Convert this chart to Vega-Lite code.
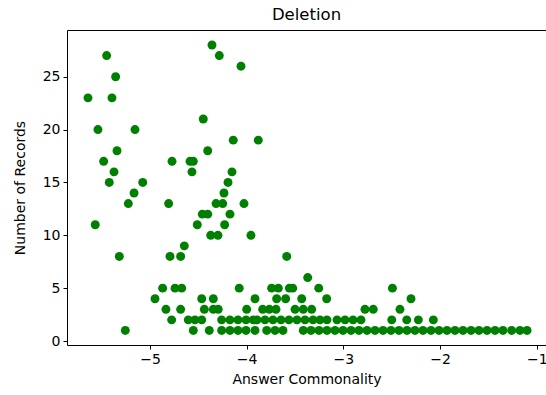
{
  "$schema": "https://vega.github.io/schema/vega-lite/v6.json",
  "autosize": {"type": "none"},
  "padding": {"left": 67, "top": 30, "right": 0, "bottom": 50},
  "width": 479,
  "height": 315,
  "background": "white",
  "title": {
    "text": "Deletion",
    "font": "DejaVu Sans",
    "fontSize": 16.5,
    "fontWeight": "normal",
    "color": "#000000",
    "anchor": "middle",
    "offset": 7
  },
  "data": {
    "values": [
      {"commonality": -5.641, "records": 23},
      {"commonality": -5.393, "records": 23},
      {"commonality": -5.538, "records": 20},
      {"commonality": -5.155, "records": 20},
      {"commonality": -5.448, "records": 27},
      {"commonality": -5.355, "records": 25},
      {"commonality": -5.341, "records": 18},
      {"commonality": -5.479, "records": 17},
      {"commonality": -5.372, "records": 16},
      {"commonality": -5.421, "records": 15},
      {"commonality": -5.075, "records": 15},
      {"commonality": -5.165, "records": 14},
      {"commonality": -5.224, "records": 13},
      {"commonality": -5.566, "records": 11},
      {"commonality": -5.317, "records": 8},
      {"commonality": -5.255, "records": 1},
      {"commonality": -4.807, "records": 13},
      {"commonality": -4.772, "records": 17},
      {"commonality": -4.586, "records": 17},
      {"commonality": -4.552, "records": 17},
      {"commonality": -4.566, "records": 16},
      {"commonality": -4.645, "records": 9},
      {"commonality": -4.793, "records": 8},
      {"commonality": -4.683, "records": 8},
      {"commonality": -4.449, "records": 21},
      {"commonality": -4.403, "records": 18},
      {"commonality": -4.359, "records": 28},
      {"commonality": -4.283, "records": 27},
      {"commonality": -4.059, "records": 26},
      {"commonality": -4.139, "records": 19},
      {"commonality": -3.880, "records": 19},
      {"commonality": -4.152, "records": 16},
      {"commonality": -4.193, "records": 15},
      {"commonality": -4.235, "records": 14},
      {"commonality": -4.317, "records": 13},
      {"commonality": -4.248, "records": 13},
      {"commonality": -4.028, "records": 13},
      {"commonality": -4.459, "records": 12},
      {"commonality": -4.403, "records": 12},
      {"commonality": -4.173, "records": 12},
      {"commonality": -4.511, "records": 11},
      {"commonality": -4.228, "records": 11},
      {"commonality": -4.372, "records": 10},
      {"commonality": -4.297, "records": 10},
      {"commonality": -3.956, "records": 10},
      {"commonality": -3.586, "records": 8},
      {"commonality": -3.369, "records": 6},
      {"commonality": -4.869, "records": 5},
      {"commonality": -4.741, "records": 5},
      {"commonality": -4.672, "records": 5},
      {"commonality": -4.077, "records": 5},
      {"commonality": -3.742, "records": 5},
      {"commonality": -3.673, "records": 5},
      {"commonality": -3.559, "records": 5},
      {"commonality": -3.524, "records": 5},
      {"commonality": -3.255, "records": 5},
      {"commonality": -2.493, "records": 5},
      {"commonality": -4.948, "records": 4},
      {"commonality": -4.465, "records": 4},
      {"commonality": -4.345, "records": 4},
      {"commonality": -3.914, "records": 4},
      {"commonality": -3.690, "records": 4},
      {"commonality": -3.597, "records": 4},
      {"commonality": -3.431, "records": 4},
      {"commonality": -3.173, "records": 4},
      {"commonality": -2.301, "records": 4},
      {"commonality": -4.835, "records": 3},
      {"commonality": -4.683, "records": 3},
      {"commonality": -4.438, "records": 3},
      {"commonality": -4.345, "records": 3},
      {"commonality": -4.294, "records": 3},
      {"commonality": -4.000, "records": 3},
      {"commonality": -3.835, "records": 3},
      {"commonality": -3.766, "records": 3},
      {"commonality": -3.697, "records": 3},
      {"commonality": -3.500, "records": 3},
      {"commonality": -3.415, "records": 3},
      {"commonality": -3.328, "records": 3},
      {"commonality": -2.777, "records": 3},
      {"commonality": -2.691, "records": 3},
      {"commonality": -2.415, "records": 3},
      {"commonality": -4.776, "records": 2},
      {"commonality": -4.604, "records": 2},
      {"commonality": -4.535, "records": 2},
      {"commonality": -4.465, "records": 2},
      {"commonality": -4.259, "records": 2},
      {"commonality": -4.173, "records": 2},
      {"commonality": -4.090, "records": 2},
      {"commonality": -4.007, "records": 2},
      {"commonality": -3.932, "records": 2},
      {"commonality": -3.893, "records": 2},
      {"commonality": -3.811, "records": 2},
      {"commonality": -3.728, "records": 2},
      {"commonality": -3.645, "records": 2},
      {"commonality": -3.563, "records": 2},
      {"commonality": -3.480, "records": 2},
      {"commonality": -3.397, "records": 2},
      {"commonality": -3.314, "records": 2},
      {"commonality": -3.242, "records": 2},
      {"commonality": -3.170, "records": 2},
      {"commonality": -3.066, "records": 2},
      {"commonality": -2.983, "records": 2},
      {"commonality": -2.900, "records": 2},
      {"commonality": -2.818, "records": 2},
      {"commonality": -2.500, "records": 2},
      {"commonality": -2.345, "records": 2},
      {"commonality": -2.225, "records": 2},
      {"commonality": -2.070, "records": 2},
      {"commonality": -4.552, "records": 1},
      {"commonality": -4.387, "records": 1},
      {"commonality": -4.259, "records": 1},
      {"commonality": -4.173, "records": 1},
      {"commonality": -4.090, "records": 1},
      {"commonality": -4.007, "records": 1},
      {"commonality": -3.914, "records": 1},
      {"commonality": -3.793, "records": 1},
      {"commonality": -3.707, "records": 1},
      {"commonality": -3.625, "records": 1},
      {"commonality": -3.415, "records": 1},
      {"commonality": -3.335, "records": 1},
      {"commonality": -3.252, "records": 1},
      {"commonality": -3.170, "records": 1},
      {"commonality": -3.087, "records": 1},
      {"commonality": -3.004, "records": 1},
      {"commonality": -2.921, "records": 1},
      {"commonality": -2.839, "records": 1},
      {"commonality": -2.756, "records": 1},
      {"commonality": -2.673, "records": 1},
      {"commonality": -2.590, "records": 1},
      {"commonality": -2.508, "records": 1},
      {"commonality": -2.425, "records": 1},
      {"commonality": -2.342, "records": 1},
      {"commonality": -2.260, "records": 1},
      {"commonality": -2.177, "records": 1},
      {"commonality": -2.094, "records": 1},
      {"commonality": -2.011, "records": 1},
      {"commonality": -1.929, "records": 1},
      {"commonality": -1.846, "records": 1},
      {"commonality": -1.763, "records": 1},
      {"commonality": -1.680, "records": 1},
      {"commonality": -1.598, "records": 1},
      {"commonality": -1.515, "records": 1},
      {"commonality": -1.432, "records": 1},
      {"commonality": -1.350, "records": 1},
      {"commonality": -1.260, "records": 1},
      {"commonality": -1.174, "records": 1},
      {"commonality": -1.101, "records": 1}
    ]
  },
  "mark": {"type": "circle", "color": "#008000", "opacity": 1, "size": 80},
  "encoding": {
    "x": {
      "field": "commonality",
      "type": "quantitative",
      "title": "Answer Commonality",
      "scale": {"domain": [-5.858, -0.905], "nice": false, "zero": false},
      "axis": {"values": [-5, -4, -3, -2, -1], "format": "d", "titlePadding": 6}
    },
    "y": {
      "field": "records",
      "type": "quantitative",
      "title": "Number of Records",
      "scale": {"domain": [-0.378, 29.42], "nice": false, "zero": false},
      "axis": {"values": [0, 5, 10, 15, 20, 25], "format": "d", "titlePadding": 15}
    }
  },
  "config": {
    "font": "DejaVu Sans",
    "view": {"stroke": "#000000", "strokeWidth": 1},
    "axis": {
      "grid": false,
      "domain": false,
      "tickColor": "#000000",
      "tickSize": 4,
      "labelFont": "DejaVu Sans",
      "labelFontSize": 14,
      "labelColor": "#000000",
      "labelPadding": 3,
      "titleFont": "DejaVu Sans",
      "titleFontSize": 14,
      "titleFontWeight": "normal",
      "titleColor": "#000000"
    }
  }
}
